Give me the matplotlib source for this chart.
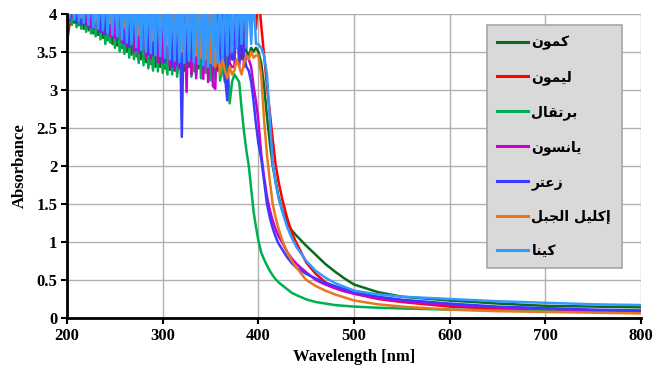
import numpy as np
from matplotlib import pyplot as plt

# wavelength grids (nm): 2.5 nm sampling in the noisy UV part, then the absorption edge + tail
wl_noise = np.arange(200, 400, 2.5)
wl_edge = [400, 403, 406, 409, 412, 415, 418, 421, 425, 430, 435, 440, 450, 460, 470,
           480, 490, 500, 525, 550, 600, 650, 700, 750, 800]

# legend labels (Arabic, pre-shaped presentation forms in visual order)
labels = [
    "\uFEE5\uFEEE\uFEE4\uFEDB",                       # كمون
    "\uFEE5\uFEEE\uFEE4\uFEF4\uFEDF",                 # ليمون
    "\uFEDD\uFE8E\uFED8\uFE97\uFEAE\uFE91",           # برتقال
    "\uFEE5\uFEEE\uFEB4\uFEE7\uFE8E\uFEF3",           # يانسون
    "\uFEAE\uFE98\uFECB\uFEAF",                       # زعتر
    "\uFEDE\uFE92\uFEA0\uFEDF\uFE8D \uFEDE\uFEF4\uFEE0\uFEDB\uFE87",  # إكليل الجبل
    "\uFE8E\uFEE8\uFEF4\uFEDB",                       # كينا
]
colors = ["#0b6b1c", "#ff0000", "#00b050", "#cc00cc", "#3b3bff", "#e8781e", "#3399ff"]

# absorbance, noisy UV part 200-397.5 nm (values above 4 are clipped by the axis)
noise_kamun = [4.3, 3.92, 4.3, 3.88, 4.3, 3.85, 4.3, 3.8, 4.3, 3.78,
               4.3, 3.74, 4.3, 3.72, 4.3, 3.68, 4.3, 3.65, 4.3, 3.6,
               4.3, 3.58, 4.3, 3.55, 4.3, 3.5, 4.3, 3.46, 4.3, 3.44,
               4.3, 3.4, 4.3, 3.36, 4.3, 3.34, 4.3, 3.3, 4.3, 3.3,
               4.3, 3.28, 4.3, 3.26, 4.3, 3.25, 4.3, 3.3, 4.3, 3.25,
               4.3, 3.3, 4.3, 3.25, 4.3, 3.28, 4.3, 3.22, 4.3, 3.25,
               4.3, 3.2, 4.3, 3.25, 4.3, 3.3, 4.3, 3.35, 3.45, 3.4,
               3.4, 4.3, 3.5, 3.4, 4.3, 3.5, 3.45, 3.55, 3.5, 3.55]
noise_lemon = [3.62, 3.85, 3.9, 4.3, 3.92, 4.3, 4.3, 3.95, 4.3, 4.3,
               3.9, 4.3, 4.3, 3.88, 4.3, 4.3, 3.85, 4.3, 4.3, 3.82,
               4.3, 4.3, 3.8, 4.3, 4.3, 3.75, 4.3, 4.3, 3.7, 4.3,
               4.3, 3.65, 4.3, 4.3, 3.6, 4.3, 4.3, 3.55, 4.3, 4.3,
               3.5, 4.3, 3.45, 4.3, 4.3, 3.4, 4.3, 4.3, 3.35, 4.3,
               3.3, 4.3, 4.3, 3.26, 3.24, 4.3, 3.3, 4.3, 4.3, 3.28,
               4.3, 3.35, 4.3, 3.4, 4.3, 3.45, 4.3, 3.5, 4.3, 3.6,
               3.6, 4.3, 3.9, 4.3, 3.7, 4.3, 4.3, 3.8, 4.3, 3.8]
noise_bortuqal = [3.9, 4.3, 3.85, 4.3, 3.82, 3.95, 3.8, 4.3, 3.76, 4.3,
                  3.74, 3.9, 3.7, 4.3, 3.66, 4.3, 3.6, 3.8, 3.62, 4.3,
                  3.55, 4.3, 3.5, 3.7, 3.47, 4.3, 3.42, 4.3, 3.4, 3.6,
                  3.35, 4.3, 3.32, 4.3, 3.28, 3.5, 3.25, 4.3, 3.24, 4.3,
                  3.22, 3.45, 3.2, 4.3, 3.2, 4.3, 3.17, 3.4, 3.3, 4.3,
                  3.2, 4.3, 3.17, 3.35, 3.2, 4.3, 3.15, 4.3, 3.22, 3.4,
                  3.12, 4.3, 3.15, 4.3, 3.12, 3.3, 3.1, 3.5, 2.82, 3.1,
                  3.2, 3.15, 3.1, 2.75, 2.45, 2.2, 2.0, 1.7, 1.4, 1.2]
noise_anise = [4.3, 4.3, 3.95, 4.3, 4.3, 3.9, 4.3, 4.3, 3.85, 4.3,
               3.82, 4.3, 4.3, 3.78, 4.3, 3.75, 4.3, 4.3, 3.7, 4.3,
               3.68, 4.3, 4.3, 3.62, 4.3, 3.58, 4.3, 4.3, 3.5, 4.3,
               3.48, 4.3, 4.3, 3.42, 4.3, 3.4, 4.3, 4.3, 3.36, 4.3,
               3.35, 4.3, 4.3, 3.3, 4.3, 3.25, 4.3, 3.28, 4.3, 4.3,
               2.97, 4.3, 3.2, 4.3, 3.15, 4.3, 4.3, 3.14, 4.3, 3.1,
               4.3, 3.05, 3.01, 4.3, 3.25, 4.3, 3.3, 4.3, 3.35, 3.3,
               3.3, 4.3, 3.35, 4.3, 3.3, 3.45, 3.4, 3.3, 3.05, 2.85]
noise_thyme = [4.3, 3.9, 4.3, 4.3, 3.88, 4.3, 3.85, 4.3, 4.3, 3.82,
               4.3, 3.8, 4.3, 4.3, 3.76, 4.3, 3.72, 4.3, 4.3, 3.7,
               4.3, 3.66, 4.3, 4.3, 3.6, 4.3, 3.56, 4.3, 4.3, 3.52,
               4.3, 3.5, 4.3, 4.3, 3.46, 4.3, 3.45, 4.3, 4.3, 3.4,
               4.3, 3.36, 4.3, 4.3, 3.3, 4.3, 3.32, 4.3, 2.38, 4.3,
               3.35, 4.3, 3.4, 4.3, 4.3, 3.35, 4.3, 3.3, 4.3, 4.3,
               3.32, 4.3, 3.35, 4.3, 3.3, 4.3, 3.2, 2.86, 4.3, 3.4,
               3.4, 4.3, 3.3, 4.3, 3.45, 3.3, 3.25, 3.1, 2.85, 2.55]
noise_rosemary = [4.3, 4.3, 4.3, 3.95, 4.3, 4.3, 3.95, 4.3, 4.3, 3.92,
                  4.3, 4.3, 3.9, 4.3, 4.3, 3.9, 4.3, 4.3, 3.88, 4.3,
                  4.3, 3.85, 4.3, 4.3, 3.82, 4.3, 4.3, 3.78, 4.3, 4.3,
                  3.72, 4.3, 4.3, 3.68, 4.3, 4.3, 3.65, 4.3, 4.3, 3.6,
                  4.3, 4.3, 3.58, 4.3, 4.3, 3.55, 4.3, 4.3, 3.5, 4.3,
                  4.3, 3.48, 4.3, 4.3, 3.45, 4.3, 3.42, 4.3, 3.4, 4.3,
                  3.35, 4.3, 3.3, 3.5, 3.2, 3.4, 3.25, 3.15, 3.3, 3.2,
                  3.25, 3.4, 3.3, 3.2, 3.35, 3.45, 3.4, 3.5, 3.42, 3.45]
noise_kina = [4.3, 3.95, 4.3, 3.92, 4.3, 3.9, 4.3, 3.88, 4.3, 3.85,
              4.3, 3.82, 4.3, 3.8, 4.3, 3.78, 4.3, 3.75, 4.3, 3.72,
              4.3, 3.7, 4.3, 3.66, 4.3, 3.62, 4.3, 3.6, 4.3, 3.56,
              4.3, 3.52, 4.3, 3.5, 4.3, 3.48, 4.3, 3.45, 4.3, 3.44,
              4.3, 3.42, 4.3, 3.4, 4.3, 3.38, 4.3, 3.36, 4.3, 3.35,
              4.3, 3.38, 4.3, 3.36, 4.3, 3.34, 4.3, 3.32, 4.3, 3.3,
              4.3, 3.32, 4.3, 3.35, 4.3, 3.4, 4.3, 3.45, 4.3, 3.5,
              4.3, 3.55, 4.3, 3.6, 4.3, 3.55, 4.3, 3.6, 4.3, 3.6]

# absorbance, absorption edge and visible tail (400-800 nm)
edge_kamun = [3.5, 3.35, 3.05, 2.65, 2.3, 2.0, 1.8, 1.6, 1.42, 1.25, 1.15, 1.08, 0.95, 0.83, 0.71,
              0.61, 0.52, 0.44, 0.34, 0.28, 0.23, 0.19, 0.16, 0.15, 0.14]
edge_lemon = [4.3, 3.85, 3.45, 3.05, 2.7, 2.35, 2.02, 1.8, 1.56, 1.32, 1.12, 0.98, 0.73, 0.58, 0.47,
              0.41, 0.36, 0.32, 0.25, 0.21, 0.15, 0.12, 0.1, 0.09, 0.08]
edge_bortuqal = [1.02, 0.86, 0.77, 0.69, 0.62, 0.56, 0.51, 0.47, 0.43, 0.38, 0.33, 0.3, 0.245, 0.21, 0.19,
                 0.17, 0.16, 0.15, 0.135, 0.125, 0.11, 0.1, 0.09, 0.08, 0.07]
edge_anise = [2.6, 2.15, 1.85, 1.6, 1.42, 1.28, 1.17, 1.08, 0.99, 0.87, 0.78, 0.71, 0.6, 0.5, 0.44,
              0.39, 0.35, 0.32, 0.26, 0.22, 0.17, 0.14, 0.12, 0.1, 0.09]
edge_thyme = [2.3, 2.1, 1.8, 1.5, 1.32, 1.18, 1.07, 0.98, 0.9, 0.8, 0.72, 0.66, 0.58, 0.52, 0.46,
              0.42, 0.38, 0.34, 0.28, 0.24, 0.19, 0.15, 0.13, 0.11, 0.1]
edge_rosemary = [3.45, 3.2, 2.6, 2.15, 1.8, 1.5, 1.32, 1.18, 1.02, 0.87, 0.75, 0.66, 0.5, 0.42, 0.36,
                 0.31, 0.27, 0.23, 0.18, 0.15, 0.11, 0.09, 0.08, 0.07, 0.06]
edge_kina = [3.6, 3.55, 3.45, 3.2, 2.6, 2.05, 1.78, 1.58, 1.4, 1.2, 1.05, 0.93, 0.75, 0.62, 0.53,
             0.46, 0.41, 0.36, 0.31, 0.28, 0.25, 0.22, 0.2, 0.18, 0.17]

series_noise = [noise_kamun, noise_lemon, noise_bortuqal, noise_anise, noise_thyme, noise_rosemary, noise_kina]
series_edge = [edge_kamun, edge_lemon, edge_bortuqal, edge_anise, edge_thyme, edge_rosemary, edge_kina]

x_ticks = [200, 300, 400, 500, 600, 700, 800]
y_ticks = [0, 0.5, 1, 1.5, 2, 2.5, 3, 3.5, 4]
y_tick_labels = ["0", "0.5", "1", "1.5", "2", "2.5", "3", "3.5", "4"]

plt.rcParams["font.family"] = ["Liberation Serif", "DejaVu Serif"]

fig = plt.figure(figsize=(6.64, 3.77), dpi=100)
ax = fig.add_axes([0.1009, 0.1565, 0.8645, 0.8075])

wl = np.concatenate([wl_noise, wl_edge])
for noise, edge, color, label in zip(series_noise, series_edge, colors, labels):
    ax.plot(wl, noise + edge, color=color, linewidth=1.8, label=label)

ax.set_xlim(200, 800)
ax.set_ylim(0, 4)
ax.set_xticks(x_ticks)
ax.set_yticks(y_ticks)
ax.set_yticklabels(y_tick_labels)
ax.tick_params(direction="out", length=4, width=1.5, labelsize=12, pad=3)
for lbl in ax.get_xticklabels() + ax.get_yticklabels():
    lbl.set_fontweight("bold")

ax.grid(True, color="#b0b0b0", linewidth=1)
ax.set_axisbelow(True)
for side in ["top", "right"]:
    ax.spines[side].set_visible(False)
for side in ["left", "bottom"]:
    ax.spines[side].set_linewidth(2)
    ax.spines[side].set_color("black")

ax.set_xlabel("Wavelength [nm]", fontsize=12, fontweight="bold", labelpad=4)
ax.set_ylabel("Absorbance", fontsize=12, fontweight="bold", labelpad=6)

leg = ax.legend(
    loc="upper left",
    bbox_to_anchor=(487 / 664, 1 - 25 / 377),
    bbox_transform=fig.transFigure,
    prop={"family": ["DejaVu Sans"], "weight": "bold", "size": 10},
    frameon=True,
    fancybox=False,
    framealpha=1,
    borderpad=0.75,
    labelspacing=1.45,
    handlelength=2.2,
    handletextpad=0.25,
    borderaxespad=0,
)
leg.get_frame().set_facecolor("#d9d9d9")
leg.get_frame().set_edgecolor("#a6a6a6")
leg.get_frame().set_linewidth(1.2)
for line in leg.get_lines():
    line.set_linewidth(2.2)

fig.savefig("out.png", dpi=100)
